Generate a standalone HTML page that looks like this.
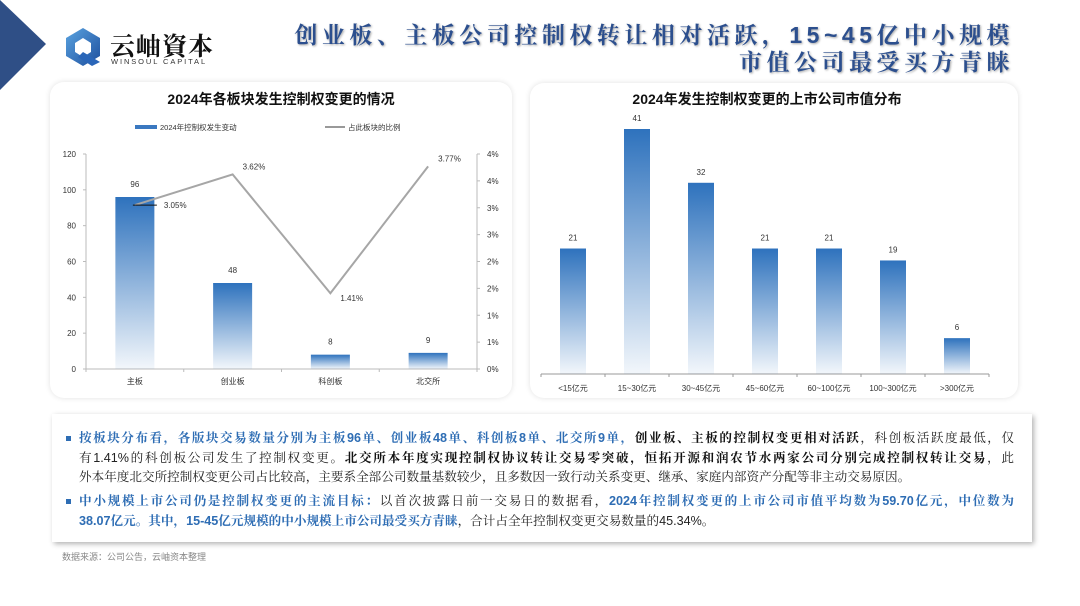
<!DOCTYPE html>
<html><head><meta charset="utf-8">
<style>
body{margin:0;width:1080px;height:606px;background:#fff;overflow:hidden;font-family:"Liberation Sans","Noto Sans CJK SC",sans-serif;position:relative}
.abs{position:absolute}
.panel{position:absolute;background:#fff;border-radius:14px;box-shadow:0 0 6px rgba(0,0,0,0.12)}
.title{position:absolute;right:66px;font-family:"Liberation Sans","Noto Serif CJK SC",serif;font-weight:bold;font-size:23px;color:#2c4f8e;letter-spacing:4.5px;text-shadow:1px 1px 2px rgba(0,0,0,0.35);white-space:nowrap}
.tb{position:absolute;left:52px;top:414px;width:980px;height:128px;background:#fff;box-shadow:2px 2px 5px rgba(0,0,0,0.3)}
.ln{position:absolute;left:79px;width:935px;font-size:12.6px;line-height:19px;color:#222;text-align:justify;text-align-last:justify;white-space:nowrap;font-family:"Liberation Sans","Noto Serif CJK SC",serif}
.last{text-align-last:left}
.b{color:#2e6db4;font-weight:bold}
.k{font-weight:bold;color:#111}
.bul{position:absolute;left:66px;width:5px;height:5px;background:#2e6db4}
</style></head><body>
<svg class="abs" style="left:0;top:0" width="50" height="92"><polygon points="0,0 46,44 0,90" fill="#2f4f86"/></svg>
<svg class="abs" style="left:62px;top:26px" width="42" height="42">
<defs><linearGradient id="lg" x1="0" y1="0" x2="1" y2="1"><stop offset="0" stop-color="#5aa3e0"/><stop offset="1" stop-color="#1d4f9e"/></linearGradient></defs>
<polygon points="21,2 38,12 38,30 21,40 4,30 4,12" fill="url(#lg)"/><polygon points="21,12 29,17 29,26 21,31 13,26 13,17" fill="#fff"/><polygon points="21,26 38,36 30,40 16,31" fill="#2a66b8"/></svg>
<div class="abs" style="left:110px;top:27px;font-family:'Liberation Serif','Noto Serif CJK SC',serif;font-size:25px;font-weight:bold;color:#111;letter-spacing:1px">云岫資本</div>
<div class="abs" style="left:111px;top:57px;font-size:7.5px;letter-spacing:1.9px;color:#333">WINSOUL CAPITAL</div>
<div class="title" style="top:17px">创业板、主板公司控制权转让相对活跃，15~45亿中小规模</div>
<div class="title" style="top:44px">市值公司最受买方青睐</div>

<div class="panel" style="left:50px;top:82px;width:462px;height:316px"></div>
<div class="panel" style="left:530px;top:83px;width:488px;height:315px"></div>

<svg id="c1" class="abs" style="left:0;top:0" width="540" height="400"></svg>
<svg id="c2" class="abs" style="left:0;top:0;" width="1080" height="400"></svg>

<div class="tb"></div>
<div class="bul" style="top:436px"></div>
<div class="ln" style="top:429px"><span class="b">按板块分布看，各版块交易数量分别为主板96单、创业板48单、科创板8单、北交所9单，</span><span class="k">创业板、主板的控制权变更相对活跃</span>，科创板活跃度最低，仅</div>
<div class="ln" style="top:449px">有1.41%的科创板公司发生了控制权变更。<span class="k">北交所本年度实现控制权协议转让交易零突破，恒拓开源和润农节水两家公司分别完成控制权转让交易</span>，此</div>
<div class="ln last" style="top:468px">外本年度北交所控制权变更公司占比较高，主要系全部公司数量基数较少，且多数因一致行动关系变更、继承、家庭内部资产分配等非主动交易原因。</div>
<div class="bul" style="top:499px"></div>
<div class="ln" style="top:492px"><span class="b">中小规模上市公司仍是控制权变更的主流目标：</span>以首次披露日前一交易日的数据看，<span class="b">2024年控制权变更的上市公司市值平均数为59.70亿元，中位数为</span></div>
<div class="ln last" style="top:512px"><span class="b">38.07亿元。其中，15-45亿元规模的中小规模上市公司最受买方青睐</span>，合计占全年控制权变更交易数量的45.34%。</div>
<div class="abs" style="left:62px;top:550px;font-size:9px;color:#888">数据来源：公司公告，云岫资本整理</div>

<script>
const boards=["主板","创业板","科创板","北交所"];
const boardCounts=[96,48,8,9];
const boardRatios=[3.05,3.62,1.41,3.77];
const leftTicks=[0,20,40,60,80,100,120];
const rightTicks=[0,0.5,1,1.5,2,2.5,3,3.5,4];
const rightTickLabels=["0%","1%","1%","2%","2%","3%","3%","4%","4%"];
const capCats=["<15亿元","15~30亿元","30~45亿元","45~60亿元","60~100亿元","100~300亿元",">300亿元"];
const capCounts=[21,41,32,21,21,19,6];

const NS="http://www.w3.org/2000/svg";
function mk(svg,tag,at,txt){const e=document.createElementNS(NS,tag);for(const k in at)e.setAttribute(k,at[k]);if(txt!==undefined)e.textContent=txt;svg.appendChild(e);return e;}
const FONT='"Liberation Sans","Noto Sans CJK SC",sans-serif';

// chart 1
const s1=document.getElementById('c1');
const d1=document.createElementNS(NS,'defs');
d1.innerHTML='<linearGradient id="bg" x1="0" y1="0" x2="0" y2="1"><stop offset="0" stop-color="#2e72bd"/><stop offset="1" stop-color="#2e72bd" stop-opacity="0.06"/></linearGradient>';
s1.appendChild(d1);
const x0=86,x1=477,yB=369,yT=154;
const yL=v=>yB-(v/120)*(yB-yT);
const yR=v=>yB-(v/4)*(yB-yT);
const band=(x1-x0)/boards.length;
const xc=i=>x0+band*(i+0.5);
let t=mk(s1,'text',{x:281,y:104,'text-anchor':'middle','font-size':14,'font-weight':'bold','font-family':FONT,fill:'#111'},'2024年各板块发生控制权变更的情况');


let lg=mk(s1,'rect',{x:135,y:125,width:22,height:4,fill:'#3a78c0'});


t=mk(s1,'text',{x:160,y:130,'font-size':7.5,'font-family':FONT,fill:'#333'},'2024年控制权发生变动');


lg=mk(s1,'line',{x1:325,y1:127,x2:345,y2:127,stroke:'#999','stroke-width':2});


t=mk(s1,'text',{x:348,y:130,'font-size':7.5,'font-family':FONT,fill:'#333'},'占此板块的比例');


mk(s1,'line',{x1:x0,y1:yT,x2:x0,y2:yB,stroke:'#bbb'});
mk(s1,'line',{x1:x1,y1:yT,x2:x1,y2:yB,stroke:'#bbb'});
mk(s1,'line',{x1:x0,y1:yB,x2:x1,y2:yB,stroke:'#bbb'});
leftTicks.forEach(v=>{mk(s1,'line',{x1:x0-3,y1:yL(v),x2:x0,y2:yL(v),stroke:'#bbb'});
 const e=mk(s1,'text',{x:x0-10,y:yL(v)+3,'text-anchor':'end','font-size':8,'font-family':FONT,fill:'#333'},v);
 
 });
rightTicks.forEach((v,i)=>{mk(s1,'line',{x1:x1,y1:yR(v),x2:x1+3,y2:yR(v),stroke:'#bbb'});
 const e=mk(s1,'text',{x:x1+10,y:yR(v)+3,'font-size':8,'font-family':FONT,fill:'#333'},rightTickLabels[i]);
 
 });
for(let i=0;i<=boards.length;i++)mk(s1,'line',{x1:x0+band*i,y1:yB,x2:x0+band*i,y2:yB+3,stroke:'#bbb'});
boards.forEach((c,i)=>{
 const r=mk(s1,'rect',{x:xc(i)-19.5,y:yL(boardCounts[i]),width:39,height:yB-yL(boardCounts[i]),fill:'url(#bg)'});
 
 
 const v=mk(s1,'text',{x:xc(i),y:yL(boardCounts[i])-10,'text-anchor':'middle','font-size':8,'font-family':FONT,fill:'#333'},boardCounts[i]);
 
 
 const l=mk(s1,'text',{x:xc(i),y:384,'text-anchor':'middle','font-size':8,'font-family':FONT,fill:'#333'},c);
 
 
});
const pl=mk(s1,'polyline',{points:boardRatios.map((v,i)=>xc(i)+','+yR(v)).join(' '),fill:'none',stroke:'#a6a6a6','stroke-width':2});


mk(s1,'line',{x1:xc(0)-2,y1:yR(boardRatios[0]),x2:xc(0)+22,y2:yR(boardRatios[0]),stroke:'#111','stroke-width':1});
boardRatios.forEach((v,i)=>{
 const e=mk(s1,'text',{x:xc(i)+(i==0?29:10),y:yR(v)+(i==0?3:(i==2?8:-5)),'font-size':8,'font-family':FONT,fill:'#333'},v.toFixed(2)+'%');
 
 
});

// chart 2
const s2=document.getElementById('c2');
const d2=document.createElementNS(NS,'defs');
d2.innerHTML='<linearGradient id="bg2" x1="0" y1="0" x2="0" y2="1"><stop offset="0" stop-color="#2e72bd"/><stop offset="1" stop-color="#2e72bd" stop-opacity="0.06"/></linearGradient>';
s2.appendChild(d2);
const X0=541,X1=989,YB=374,YT=129,MAX=41;
const y2=v=>YB-(v/MAX)*(YB-YT);
const b2=(X1-X0)/capCats.length;
const xc2=i=>X0+b2*(i+0.5);
t=mk(s2,'text',{x:767,y:104,'text-anchor':'middle','font-size':14,'font-weight':'bold','font-family':FONT,fill:'#111'},'2024年发生控制权变更的上市公司市值分布');


mk(s2,'line',{x1:X0,y1:YB,x2:X1,y2:YB,stroke:'#999'});
for(let i=0;i<=capCats.length;i++)mk(s2,'line',{x1:X0+b2*i,y1:YB,x2:X0+b2*i,y2:YB+3,stroke:'#999'});
capCats.forEach((c,i)=>{
 const r=mk(s2,'rect',{x:xc2(i)-13,y:y2(capCounts[i]),width:26,height:YB-y2(capCounts[i]),fill:'url(#bg2)'});
 
 
 const v=mk(s2,'text',{x:xc2(i),y:y2(capCounts[i])-8,'text-anchor':'middle','font-size':8,'font-family':FONT,fill:'#333'},capCounts[i]);
 
 
 const l=mk(s2,'text',{x:xc2(i),y:391,'text-anchor':'middle','font-size':8,'font-family':FONT,fill:'#333'},c);
 
 
});
</script>
</body></html>
